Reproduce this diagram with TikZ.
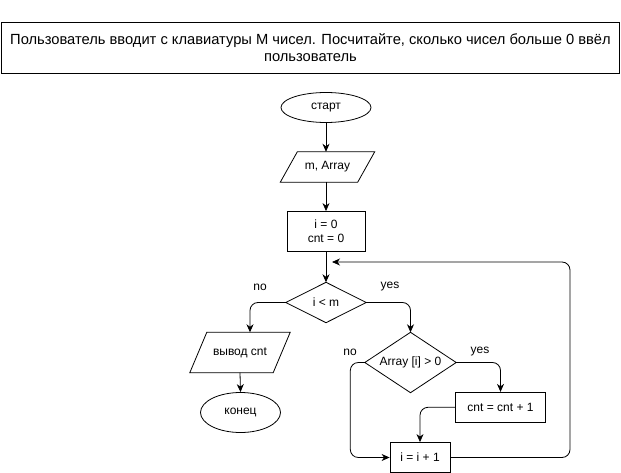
\documentclass[tikz,border=0pt]{standalone}
\usepackage{fontspec}
\setmainfont{Liberation Sans}
\usetikzlibrary{arrows.meta,shapes.geometric}
\begin{document}
\begin{tikzpicture}[x=1pt,y=-1pt,
  txt/.style={font=\fontsize{12}{14}\selectfont, inner sep=0pt, align=center},
  shapeline/.style={draw=black, line width=0.8pt},
  term/.style={txt, shapeline, ellipse},
  proc/.style={txt, shapeline, rectangle},
  hold/.style={txt, rectangle},
  lbl/.style={font=\fontsize{12}{14}\selectfont, inner sep=0pt},
  titlebox/.style={shapeline, rectangle, font=\fontsize{14.7}{16.5}\selectfont, align=center, inner sep=0pt, minimum width=618pt, minimum height=51pt},
  arr/.style={draw=black, line width=0.8pt, rounded corners=8pt, -{Stealth[length=8pt,width=7pt,inset=2.5pt]}}
]
\useasboundingbox (0,0) rectangle (621,473);

\node[titlebox] (title) at (310.5,47.5) {Пользователь вводит с клавиатуры М чисел. Посчитайте, сколько чисел больше 0 ввёл\\пользователь};

\node[term, minimum width=90pt, minimum height=30pt] (start) at (326,107.5) {старт};

\node[hold, minimum width=94pt, minimum height=30pt] (in) at (327.5,167) {m, Array};
\draw[shapeline] ([xshift=17pt]in.north west) -- (in.north east) -- ([xshift=-17pt]in.south east) -- (in.south west) -- cycle;

\node[proc, minimum width=78pt, minimum height=40pt] (init) at (326,231.5) {i = 0\\cnt = 0};

\node[hold, minimum width=80pt, minimum height=40pt] (c1) at (326,302.5) {i < m};
\draw[shapeline] (c1.north) -- (c1.east) -- (c1.south) -- (c1.west) -- cycle;

\node[hold, minimum width=100pt, minimum height=40pt] (out) at (240,352.5) {вывод cnt};
\draw[shapeline] ([xshift=17pt]out.north west) -- (out.north east) -- ([xshift=-17pt]out.south east) -- (out.south west) -- cycle;

\node[term, minimum width=80pt, minimum height=40pt] (end) at (240.5,412.5) {конец};

\node[hold, minimum width=91pt, minimum height=60pt] (c2) at (410.5,362.5) {Array [i] > 0};
\draw[shapeline] (c2.north) -- (c2.east) -- (c2.south) -- (c2.west) -- cycle;

\node[proc, minimum width=90pt, minimum height=30pt] (inc) at (500.5,407.3) {cnt = cnt + 1};

\node[proc, minimum width=60pt, minimum height=30pt] (stepn) at (420,457.5) {i = i + 1};

\coordinate (loopR) at (570,262);
\coordinate (loopin) at (332,262);

\draw[arr] (start) -- (start |- in.north);
\draw[arr] (start |- in.south) -- (init);
\draw[arr] (init) -- (c1.north);
\draw[arr] (c1.west) -| ([xshift=10pt]out.north);
\draw[arr] (out.south) -- (end.north);
\draw[arr] (c1.east) -| (c2.north);
\draw[arr] (c2.east) -| (inc.north);
\draw[arr] (c2.west) -- ++(-14.5,0) |- (stepn.west);
\draw[arr] (inc.west) -| (stepn.north);
\draw[arr] (stepn.east) -| (loopR) -- (loopin);

\node[lbl] (no1) at (260,287) {no};
\node[lbl] (yes1) at (390,287) {yes};
\node[lbl] (no2) at (350,352) {no};
\node[lbl] (yes2) at (480,352) {yes};
\end{tikzpicture}
\end{document}
